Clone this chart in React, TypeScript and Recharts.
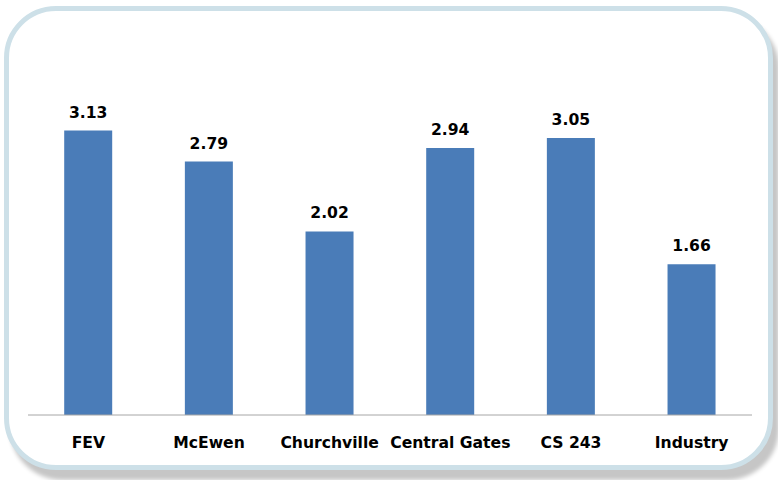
import React from 'react';
import { BarChart, Bar, XAxis, YAxis, LabelList } from 'recharts';

const sites = ['FEV', 'McEwen', 'Churchville', 'Central Gates', 'CS 243', 'Industry'];
const scores = [3.13, 2.79, 2.02, 2.94, 3.05, 1.66];

const data = sites.map((name, i) => ({ name, value: scores[i] }));

const FONT = '"DejaVu Sans", Verdana, sans-serif';

const App: React.FC = () => {
    return (
        <div style={{ position: 'absolute', left: 0, top: 0, width: 778, height: 480, background: '#fff' }}>
            <div
                style={{
                    position: 'absolute',
                    left: 4,
                    top: 6,
                    width: 759,
                    height: 454,
                    border: '5px solid #cde0e8',
                    borderRadius: 52,
                    background: '#fff',
                    boxShadow: '6px 10px 4px #c6c6c6',
                }}
            />
            <div style={{ position: 'absolute', left: 0, top: 0 }}>
                <BarChart
                    width={778}
                    height={480}
                    data={data}
                    margin={{ top: 97, right: 26, left: 28, bottom: 0 }}
                    barCategoryGap="30%"
                >
                    <XAxis
                        dataKey="name"
                        height={65}
                        tickLine={false}
                        tickSize={0}
                        tickMargin={22}
                        axisLine={{ stroke: '#a6a6a6' }}
                        interval={0}
                        tick={{ fill: '#000', fontFamily: FONT, fontSize: 15.6, fontWeight: 'bold' }}
                    />
                    <YAxis hide domain={[0, 3.5]} />
                    <Bar dataKey="value" fill="#4a7cb8" isAnimationActive={false}>
                        <LabelList
                            dataKey="value"
                            position="top"
                            offset={13}
                            formatter={(v: any) => Number(v).toFixed(2)}
                            style={{ fill: '#000', fontFamily: FONT, fontSize: 15.6, fontWeight: 'bold' }}
                        />
                    </Bar>
                </BarChart>
            </div>
        </div>
    );
};

export default App;
